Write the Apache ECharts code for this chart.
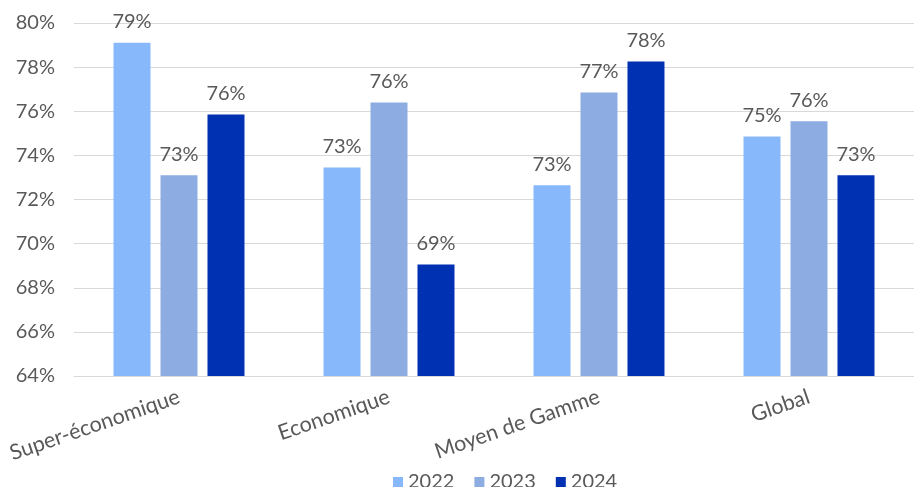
<!DOCTYPE html>
<html>
<head>
<meta charset="utf-8">
<script src="https://cdn.jsdelivr.net/npm/echarts@6/dist/echarts.min.js"></script>
<style>
  html, body { margin: 0; padding: 0; background: #ffffff; }
  #chart { width: 914px; height: 487px; }
</style>
</head>
<body>
<div id="chart"></div>
<script>
// Segments shown on the category axis
const categories = ['Super-économique', 'Economique', 'Moyen de Gamme', 'Global'];

// Rates per year (percent)
const years = ['2022', '2023', '2024'];
const values2022 = [79.1, 73.45, 72.65, 74.85];
const values2023 = [73.1, 76.4, 76.85, 75.55];
const values2024 = [75.85, 69.05, 78.25, 73.1];

// Value axis range
const yMin = 64;
const yMax = 80;
const yStep = 2;

const colors = ['#88B8FC', '#8DADE2', '#0131B3'];
const textColor = '#595959';
const fontFamily = 'Lato, "Open Sans", sans-serif';

const seriesValues = [values2022, values2023, values2024];

const chart = echarts.init(document.getElementById('chart'), null, { renderer: 'canvas' });

chart.setOption({
  animation: false,
  color: colors,
  textStyle: { fontFamily: fontFamily },
  grid: { left: 74, right: 0, top: 23, bottom: 111, containLabel: false },
  legend: {
    data: years,
    top: 467,
    left: 388,
    itemWidth: 10,
    itemHeight: 10,
    itemGap: 20,
    icon: 'rect',
    textStyle: { color: textColor, fontSize: 20, fontFamily: fontFamily }
  },
  xAxis: {
    type: 'category',
    data: categories,
    axisLine: { show: true, lineStyle: { color: '#d9d9d9', width: 1 } },
    axisTick: { show: false },
    axisLabel: {
      color: textColor,
      fontSize: 21.5,
      fontFamily: fontFamily,
      rotate: 19,
      margin: 20,
      interval: 0
    }
  },
  yAxis: {
    type: 'value',
    min: yMin,
    max: yMax,
    interval: yStep,
    axisLine: { show: false },
    axisTick: { show: false },
    splitLine: { show: true, lineStyle: { color: '#d9d9d9', width: 1 } },
    axisLabel: {
      color: textColor,
      fontSize: 20,
      fontFamily: fontFamily,
      margin: 19,
      formatter: v => v + '%'
    }
  },
  series: years.map((y, i) => ({
    name: y,
    type: 'bar',
    data: seriesValues[i],
    barWidth: 37,
    barGap: '27%',
    label: {
      show: true,
      position: 'top',
      distance: 11,
      color: textColor,
      fontSize: 20,
      fontFamily: fontFamily,
      formatter: p => Math.round(p.value) + '%'
    }
  }))
});
</script>
</body>
</html>
